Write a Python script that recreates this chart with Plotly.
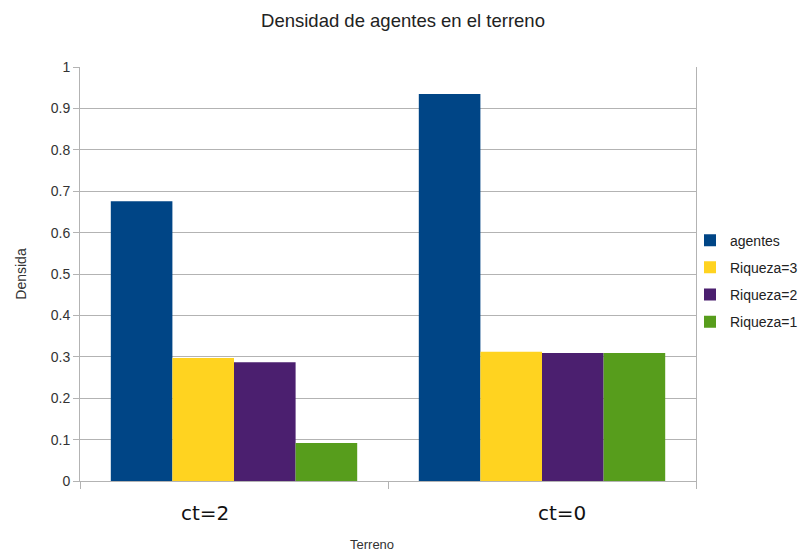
import plotly.graph_objects as go

# Terrain categories and density per series
terrenos = ["ct=2", "ct=0"]
series = ["agentes", "Riqueza=3", "Riqueza=2", "Riqueza=1"]
agentes = [0.676, 0.935]
riqueza_3 = [0.297, 0.312]
riqueza_2 = [0.287, 0.309]
riqueza_1 = [0.092, 0.309]
y_ticks = [0, 0.1, 0.2, 0.3, 0.4, 0.5, 0.6, 0.7, 0.8, 0.9, 1]

valores = [agentes, riqueza_3, riqueza_2, riqueza_1]
colores = ["#004586", "#ffd320", "#4b1f6f", "#579d1c"]

fig = go.Figure()
for nombre, vals, color in zip(series, valores, colores):
    fig.add_trace(go.Bar(
        x=terrenos, y=vals, name=nombre, legendgroup=nombre,
        marker=dict(color=color, line=dict(width=0)),
    ))

fig.update_layout(
    width=806, height=554,
    margin=dict(l=80, r=110, t=67, b=73, autoexpand=False),
    paper_bgcolor="white", plot_bgcolor="white",
    barmode="group", bargap=0.2, bargroupgap=0,
    font=dict(family="Liberation Sans, Arial, sans-serif", color="#333333"),
    title=dict(text="Densidad de agentes en el terreno", x=0.5, xanchor="center",
               y=0.963, yanchor="middle",
               font=dict(size=18.5, color="#222222")),
    legend=dict(xref="container", x=690 / 806, xanchor="left",
                yref="paper", y=0.483, yanchor="middle",
                font=dict(size=14, color="#222222"), tracegroupgap=6,
                itemwidth=30, bgcolor="rgba(0,0,0,0)"),
    showlegend=True,
)

fig.update_xaxes(
    type="category", showticklabels=False,
    tickson="boundaries", ticks="outside", ticklen=7, tickcolor="#b3b3b3",
    showline=True, linecolor="#b3b3b3", linewidth=1,
    showgrid=False, zeroline=False,
    title=None,
)
fig.update_yaxes(
    range=[0, 1], tickvals=y_ticks, ticktext=[f"{v:g}" for v in y_ticks],
    ticks="outside", ticklen=6, tickcolor="#b3b3b3",
    showgrid=True, gridcolor="#b3b3b3", gridwidth=1,
    showline=True, mirror=True, linecolor="#b3b3b3", linewidth=1,
    zeroline=False,
    tickfont=dict(size=14, color="#333333"),
    title=dict(text="Densida", font=dict(size=14, color="#333333"), standoff=20),
)

# Category labels and x-axis title
etiqueta_font = dict(size=20, color="#111111", family="DejaVu Sans, sans-serif")
fig.add_annotation(text="ct=2", xref="paper", yref="paper", x=(205 - 80) / 616, y=-0.112,
                   xanchor="center", showarrow=False, font=etiqueta_font)
fig.add_annotation(text="ct=0", xref="paper", yref="paper", x=(562 - 80) / 616, y=-0.112,
                   xanchor="center", showarrow=False, font=etiqueta_font)
fig.add_annotation(text="Terreno", xref="paper", yref="paper", x=(372 - 80) / 616, y=-0.177,
                   xanchor="center", showarrow=False, font=dict(size=13, color="#333333"))

fig.write_html("out.html")
